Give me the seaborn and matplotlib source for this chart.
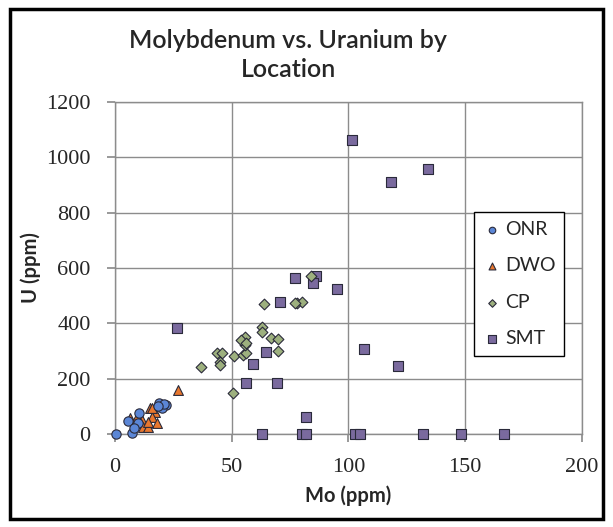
import matplotlib
matplotlib.use("Agg")
import matplotlib.pyplot as plt
import seaborn as sns
import pandas as pd

sns.set_theme(style="white")
plt.rcParams['font.family'] = ['Lato', 'DejaVu Sans']

# data
onr_mo = [0.5, 7.4, 5.7, 10.4, 19, 22, 20, 10, 8, 21, 18.5]
onr_u = [0, 5, 47, 75, 111, 105, 95, 40, 20, 110, 100]

dwo_mo = [27, 15, 17.1, 15.7, 11.4, 6.4, 8.6, 12.1, 14.3, 17.8, 9.6, 14, 15.7]
dwo_u = [159, 93, 81, 63, 51, 57, 39, 26, 26, 39, 63, 45, 93]

cp_mo = [36.9, 50.4, 43.6, 45.7, 45, 45, 51, 55, 56, 55.6, 55.6, 62.8, 62.8,
         63.8, 77.8, 66.8, 70, 70, 83.8, 80, 54, 56, 77]
cp_u = [241, 149, 292, 292, 261, 250, 283, 287, 293, 352, 322, 388, 370,
        470, 475, 346, 342, 301, 571, 478, 340, 330, 475]

smt_mo = [26.5, 70.8, 77.3, 86, 84.9, 95, 64.7, 59.3, 56.1, 69.5, 101.5, 118.4,
          133.9, 106.7, 121.3, 82, 63, 80, 82, 103, 105, 132, 148, 166.5]
smt_u = [382, 476, 565, 571, 547, 524, 297, 254, 183, 183, 1063, 912,
         957, 306, 247, 60, 0, 0, 0, 0, 0, 0, 0, 0]

locations = ['ONR', 'DWO', 'CP', 'SMT']
colors = {'ONR': '#5B86D6', 'DWO': '#E8772E', 'CP': '#9DB07E', 'SMT': '#7A6A9E'}
markers = {'ONR': 'o', 'DWO': '^', 'CP': 'D', 'SMT': 's'}
sizes = {'ONR': 45, 'DWO': 50, 'CP': 30, 'SMT': 55}

frames = []
for loc, mo, u in [('ONR', onr_mo, onr_u), ('DWO', dwo_mo, dwo_u),
                   ('CP', cp_mo, cp_u), ('SMT', smt_mo, smt_u)]:
    frames.append(pd.DataFrame({'Mo': mo, 'U': u, 'Location': loc}))
df = pd.concat(frames, ignore_index=True)

fig = plt.figure(figsize=(6.13, 5.27), dpi=100)
ax = fig.add_axes([0.1876, 0.1765, 0.7618, 0.63])

# draw in reverse order so small markers stay on top like the original
for loc in ['SMT', 'CP', 'DWO', 'ONR']:
    sub = df[df['Location'] == loc]
    sns.scatterplot(data=sub, x='Mo', y='U', ax=ax, color=colors[loc],
                    marker=markers[loc], s=sizes[loc], edgecolor='#2a2a3a',
                    linewidth=0.8, label=loc, zorder=3, clip_on=False)

ax.set_xlim(0, 200)
ax.set_ylim(0, 1200)
ax.set_xticks([0, 50, 100, 150, 200])
ax.set_yticks(range(0, 1201, 200))
ax.grid(True, color='#8c8c8c', linewidth=1.0)
ax.set_axisbelow(True)
for side in ['top', 'right', 'left', 'bottom']:
    ax.spines[side].set_color('#8c8c8c')
    ax.spines[side].set_linewidth(1.0)
ax.tick_params(axis='both', which='major', direction='out', length=5.5,
               color='#8c8c8c', pad=12, bottom=True, left=True)
for lbl in ax.get_xticklabels() + ax.get_yticklabels():
    lbl.set_family('Liberation Serif')
    lbl.set_fontsize(16)

ax.set_xlabel('Mo (ppm)', fontsize=14.5, fontweight='bold', labelpad=6)
ax.set_ylabel('U (ppm)', fontsize=14.5, fontweight='bold', labelpad=4)
fig.text(0.47, 1 - 29 / 527, 'Molybdenum vs. Uranium by\nLocation',
         ha='center', va='top', fontsize=18, fontweight='semibold',
         linespacing=1.3)

# legend in the original order
handles, labels = ax.get_legend_handles_labels()
order = [labels.index(l) for l in locations]
leg = ax.legend([handles[i] for i in order], locations, loc='upper left',
                bbox_to_anchor=(474 / 613, 1 - 212 / 527),
                bbox_transform=fig.transFigure,
                frameon=True, fancybox=False, fontsize=14, labelspacing=1.0,
                handletextpad=0.15, handlelength=1.0, borderpad=0.45,
                borderaxespad=0, markerscale=0.7)
leg.get_frame().set_edgecolor('black')
leg.get_frame().set_linewidth(1.0)
leg.get_frame().set_alpha(1)

# outer chart border
fig.patches.append(plt.Rectangle((0.017, 0.016), 0.966, 0.966,
                                 transform=fig.transFigure, fill=False,
                                 edgecolor='black', linewidth=2.5))

fig.savefig('out.png', dpi=100)
